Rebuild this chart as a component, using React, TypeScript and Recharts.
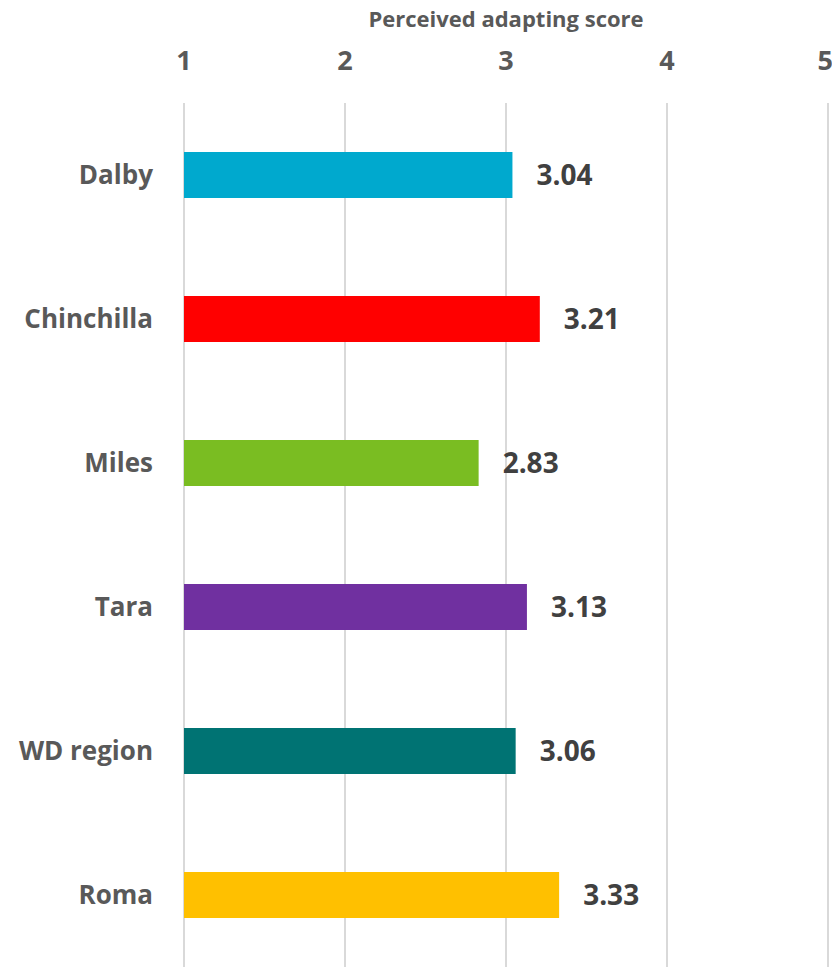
import { BarChart, Bar, XAxis, YAxis, CartesianGrid, Cell, LabelList } from 'recharts';

const regions = ['Dalby', 'Chinchilla', 'Miles', 'Tara', 'WD region', 'Roma'];
const scores = [3.04, 3.21, 2.83, 3.13, 3.06, 3.33];
const barColors = ['#00A9CE', '#FF0000', '#7ABD22', '#7030A0', '#007373', '#FFC000'];
const scoreTicks = [1, 2, 3, 4, 5];

const data = regions.map((region, i) => ({ region, score: scores[i] }));

const App = () => {
  return (
    <div style={{ position: 'absolute', left: 0, top: 0, background: '#fff' }}>
      <BarChart
        width={832}
        height={967}
        data={data}
        layout="vertical"
        margin={{ top: 0, right: 4, bottom: 0, left: 0 }}
        style={{ fontFamily: '"Open Sans", sans-serif', fontWeight: 700 }}
      >
        <CartesianGrid horizontal={false} stroke="#D9D9D9" strokeWidth={2} />
        <XAxis
          type="number"
          orientation="top"
          domain={[1, 5]}
          ticks={scoreTicks}
          height={103}
          axisLine={false}
          tickLine={false}
          tickSize={0}
          tickMargin={33}
          tick={{ fill: '#595959', fontSize: 27, fontWeight: 700 }}
          label={{
            value: 'Perceived adapting score',
            position: 'insideTop',
            offset: 11,
            fill: '#595959',
            fontSize: 22,
            fontWeight: 700,
          }}
        />
        <YAxis
          type="category"
          dataKey="region"
          width={184}
          axisLine={false}
          tickLine={false}
          tickSize={0}
          tickMargin={31}
          tick={{ fill: '#595959', fontSize: 26, fontWeight: 700 }}
        />
        <Bar dataKey="score" barSize={46} isAnimationActive={false}>
          {data.map((d, i) => (
            <Cell key={d.region} fill={barColors[i]} />
          ))}
          <LabelList
            dataKey="score"
            position="right"
            offset={24}
            fill="#404040"
            fontSize={28}
            fontWeight={700}
            formatter={(v: number) => v.toFixed(2)}
          />
        </Bar>
      </BarChart>
    </div>
  );
};

export default App;
